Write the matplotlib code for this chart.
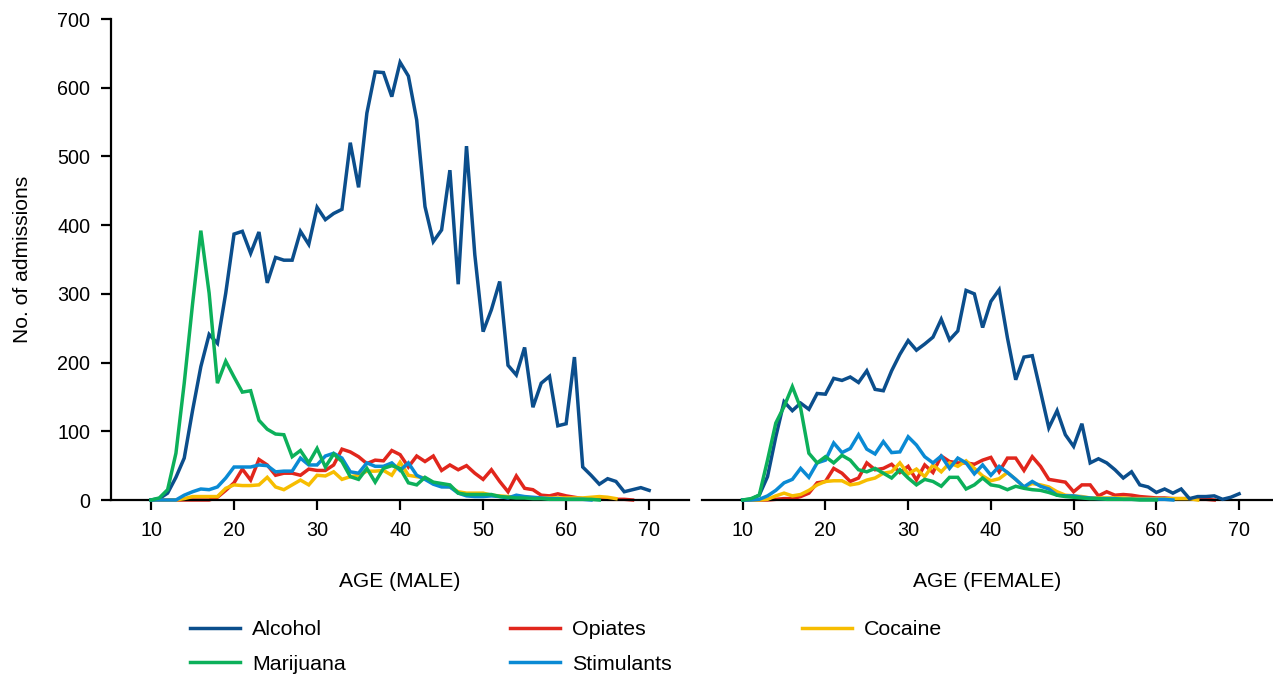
import numpy as np
import matplotlib
matplotlib.use("Agg")
import matplotlib.pyplot as plt
from matplotlib.lines import Line2D

# ages 10..70, one value per year
ages = np.arange(10, 71)

male_alcohol = [0, 2, 10, 33, 61, 130, 194, 241, 228, 301,
                387, 391, 359, 390, 316, 353, 349, 349, 391, 372,
                426, 408, 417, 423, 520, 455, 563, 623, 622, 587,
                637, 617, 553, 427, 376, 393, 480, 314, 515, 357,
                245, 277, 318, 196, 182, 222, 135, 170, 180, 108,
                111, 208, 48, 36, 23, 31, 27, 12, 15, 18, 14]
male_marijuana = [0, 3, 15, 68, 170, 285, 392, 301, 170, 202,
                  179, 157, 159, 116, 103, 96, 95, 63, 72, 54,
                  75, 48, 67, 56, 34, 30, 46, 26, 46, 50,
                  46, 25, 22, 33, 26, 24, 22, 10, 8, 8,
                  8, 8, 5, 4, 3, 3, 2, 2, 1, 1,
                  1, 1, 1, 1, 0]
male_opiates = [0, 0, 0, 0, 0, 0, 0, 0, 4, 14,
                25, 45, 29, 59, 51, 36, 39, 39, 36, 45,
                43, 43, 51, 74, 70, 63, 53, 58, 57, 72,
                66, 48, 64, 56, 64, 43, 51, 44, 50, 39,
                30, 44, 27, 12, 35, 17, 15, 7, 6, 9,
                6, 4, 2, 2, 2, 1, 1, 1, 0]
male_stimulants = [0, 0, 0, 0, 7, 12, 16, 15, 19, 32,
                   48, 48, 48, 51, 50, 41, 42, 42, 61, 51,
                   51, 64, 68, 61, 41, 39, 54, 49, 49, 54,
                   43, 54, 36, 30, 23, 19, 19, 10, 6, 5,
                   5, 6, 5, 3, 7, 5, 4, 3, 2, 2,
                   1, 1, 1, 0]
male_cocaine = [0, 0, 0, 0, 2, 5, 5, 5, 5, 17,
                22, 21, 21, 22, 33, 19, 15, 22, 29, 22,
                36, 35, 41, 30, 34, 36, 42, 42, 43, 36,
                55, 36, 34, 32, 25, 20, 19, 12, 10, 10,
                10, 7, 6, 5, 4, 4, 3, 3, 3, 3,
                3, 3, 3, 4, 5, 4, 2]

female_alcohol = [0, 1, 7, 34, 92, 143, 130, 141, 132, 155,
                  154, 177, 174, 179, 171, 188, 161, 159, 188, 212,
                  232, 218, 227, 237, 263, 233, 246, 305, 300, 251,
                  289, 306, 236, 175, 208, 210, 158, 105, 130, 95,
                  78, 111, 54, 60, 54, 44, 32, 41, 22, 19,
                  11, 16, 10, 16, 2, 5, 5, 6, 1, 4, 9]
female_marijuana = [0, 2, 7, 58, 112, 136, 165, 134, 68, 54,
                    63, 54, 65, 58, 44, 41, 46, 39, 32, 44,
                    32, 22, 30, 27, 20, 33, 33, 16, 22, 32,
                    22, 20, 15, 20, 17, 15, 14, 11, 7, 5,
                    4, 3, 2, 2, 1, 1, 1, 1, 0, 0, 0]
female_opiates = [0, 0, 0, 0, 1, 2, 2, 5, 10, 25,
                  27, 46, 39, 27, 32, 54, 44, 46, 52, 40,
                  49, 29, 51, 40, 64, 56, 54, 54, 52, 58,
                  62, 41, 61, 61, 43, 63, 49, 30, 28, 26,
                  12, 22, 22, 6, 12, 7, 8, 7, 5, 4,
                  3, 3, 2, 2, 2, 1, 1, 0]
female_stimulants = [0, 0, 1, 6, 14, 25, 30, 46, 33, 54,
                     58, 83, 69, 75, 95, 74, 67, 85, 69, 70,
                     92, 80, 63, 54, 64, 46, 61, 54, 38, 51,
                     36, 49, 40, 30, 19, 27, 20, 16, 7, 6,
                     6, 4, 3, 2, 2, 2, 1, 1, 1, 1,
                     1, 1, 0]
female_cocaine = [0, 0, 0, 1, 6, 10, 6, 8, 14, 22,
                  27, 28, 28, 22, 24, 29, 32, 39, 41, 54,
                  38, 45, 34, 51, 41, 54, 49, 57, 46, 35,
                  28, 31, 40, 30, 19, 24, 22, 19, 12, 7,
                  6, 5, 3, 3, 3, 3, 3, 2, 2, 2,
                  2, 2, 2, 2, 2, 0]

colors = {"Alcohol": "#0b4e8c", "Marijuana": "#0cb05a", "Opiates": "#e1261c",
          "Stimulants": "#0a8ad4", "Cocaine": "#f7bd00"}
zorders = {"Opiates": 2, "Cocaine": 3, "Alcohol": 4, "Stimulants": 5, "Marijuana": 6}

plt.rcParams["font.family"] = ["Liberation Sans", "DejaVu Sans"]
plt.rcParams["font.size"] = 15

W, H = 1273, 675
fig = plt.figure(figsize=(W / 100, H / 100), dpi=100)
ax1 = fig.add_axes([111 / W, (H - 500) / H, 578 / W, 481 / H])
ax2 = fig.add_axes([702 / W, (H - 500) / H, 571 / W, 481 / H])

panels = [
    (ax1, {"Alcohol": male_alcohol, "Marijuana": male_marijuana, "Opiates": male_opiates,
           "Stimulants": male_stimulants, "Cocaine": male_cocaine}, "AGE (MALE)", (5.18, 74.8)),
    (ax2, {"Alcohol": female_alcohol, "Marijuana": female_marijuana, "Opiates": female_opiates,
           "Stimulants": female_stimulants, "Cocaine": female_cocaine}, "AGE (FEMALE)", (5.08, 74.1)),
]

for ax, series, xlab, xl in panels:
    for name, vals in series.items():
        ax.plot(ages[:len(vals)], vals, color=colors[name], lw=2.5,
                zorder=zorders[name], clip_on=False, solid_joinstyle="miter")
    ax.set_xlim(*xl)
    ax.set_ylim(0, 700)
    ax.set_xticks(range(10, 71, 10))
    ax.set_yticks(range(0, 701, 100))
    ax.spines["top"].set_visible(False)
    ax.spines["right"].set_visible(False)
    ax.spines["bottom"].set_linewidth(1.6)
    ax.spines["left"].set_linewidth(1.6)
    ax.tick_params(width=1.6, length=7.5, labelsize=14.2, pad=7.5)
    ax.set_xlabel(xlab, fontsize=15.1, labelpad=23)

ax1.set_ylabel("No. of admissions", fontsize=15.1, labelpad=18)
ax2.spines["left"].set_visible(False)
ax2.tick_params(axis="y", left=False, labelleft=False)

def handle(name):
    return Line2D([], [], color=colors[name], lw=2.5)

legend_cols = [(190, ["Alcohol", "Marijuana"]), (510, ["Opiates", "Stimulants"]), (802, ["Cocaine"])]
for x0, names in legend_cols:
    fig.legend([handle(n) for n in names], names, loc="upper left",
               bbox_to_anchor=(x0 / W, (H - 620) / H), frameon=False, fontsize=15.4,
               handlelength=2.34, handletextpad=0.56, labelspacing=0.74,
               borderpad=0, borderaxespad=0)

fig.savefig("out.png", dpi=100)
